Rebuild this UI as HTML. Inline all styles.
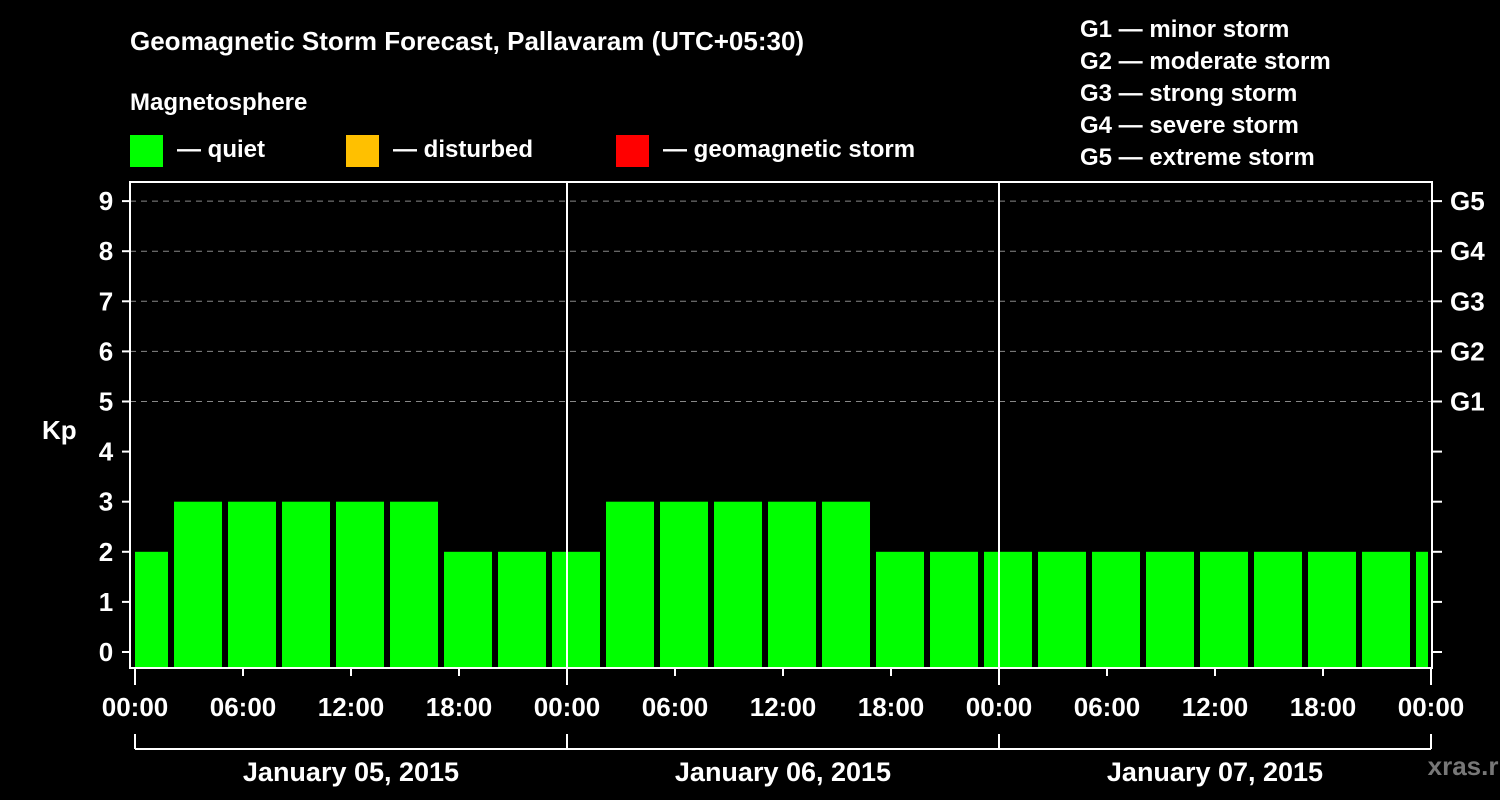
<!DOCTYPE html>
<html><head><meta charset="utf-8"><style>
body{margin:0;background:#000;}
svg{display:block;font-family:"Liberation Sans",sans-serif;font-weight:bold;}
</style></head><body>
<svg width="1500" height="800" viewBox="0 0 1500 800">
<rect width="1500" height="800" fill="#000"/>
<text x="130" y="50" fill="#fff" font-size="26">Geomagnetic Storm Forecast, Pallavaram (UTC+05:30)</text>
<text x="130" y="110" fill="#fff" font-size="24">Magnetosphere</text>
<g>
<rect x="130" y="135" width="33" height="32" fill="#00ff00"/>
<text x="177" y="157" fill="#fff" font-size="24">— quiet</text>
<rect x="346" y="135" width="33" height="32" fill="#ffc000"/>
<text x="393" y="157" fill="#fff" font-size="24">— disturbed</text>
<rect x="616" y="135" width="33" height="32" fill="#ff0000"/>
<text x="663" y="157" fill="#fff" font-size="24">— geomagnetic storm</text>
</g>
<g fill="#fff" font-size="24">
<text x="1080" y="37">G1 — minor storm</text>
<text x="1080" y="69">G2 — moderate storm</text>
<text x="1080" y="101">G3 — strong storm</text>
<text x="1080" y="133">G4 — severe storm</text>
<text x="1080" y="165">G5 — extreme storm</text>
</g>
<text x="42" y="439" fill="#fff" font-size="26">Kp</text>
<text x="1471" y="775" fill="#777" font-size="26" text-anchor="middle">xras.ru</text>
<g id="grid"></g><g id="bars"></g><g id="axes"></g>
</svg>
<script>
const kpValues=[2,3,3,3,3,3,2,2,2,3,3,3,3,3,2,2,2,2,2,2,2,2,2,2,2];
const yTicks=[0,1,2,3,4,5,6,7,8,9];
const gLabels=["","","","","","G1","G2","G3","G4","G5"];
const hourLabels=["00:00","06:00","12:00","18:00","00:00","06:00","12:00","18:00","00:00","06:00","12:00","18:00","00:00"];
const dayLabels=["January 05, 2015","January 06, 2015","January 07, 2015"];
const NS="http://www.w3.org/2000/svg";
const L=130,R=1432,T=182,B=668,x0=135,dayW=432;
const y=v=>652-v*50.1;
const x=h=>x0+h*dayW/24;
const barStartH=-0.833;
function mk(tag,attrs,parent,txt){const e=document.createElementNS(NS,tag);for(const k in attrs)e.setAttribute(k,attrs[k]);if(txt!==undefined)e.textContent=txt;parent.appendChild(e);return e;}
const grid=document.getElementById('grid'),bars=document.getElementById('bars'),axes=document.getElementById('axes');
yTicks.forEach((v,i)=>{
 if(v>=5){const g=mk('line',{x1:L,x2:R,y1:y(v),y2:y(v),stroke:'#888','stroke-dasharray':'6,5','stroke-width':1},grid);
 
 }
 mk('line',{x1:122,x2:L,y1:y(v),y2:y(v),stroke:'#fff','stroke-width':2},axes);
 mk('line',{x1:R,x2:1442,y1:y(v),y2:y(v),stroke:'#fff','stroke-width':2},axes);
 const t=mk('text',{x:106,y:y(v)+9,fill:'#fff','font-size':26,'text-anchor':'middle'},axes,String(v));
 
 
 if(gLabels[i]){const g=mk('text',{x:1450,y:y(v)+9,fill:'#fff','font-size':26},axes,gLabels[i]);
 
 }
});
kpValues.forEach((v,i)=>{
 let a=x(barStartH+i*3),b=a+48;a=Math.max(a,x0);b=Math.min(b,1428);
 const r=mk('rect',{x:a,y:y(v),width:b-a,height:667-y(v),fill:'#00ff00'},bars);
 
 
});
mk('rect',{x:L,y:T,width:R-L,height:B-T,fill:'none',stroke:'#fff','stroke-width':2},axes);
[1,2].forEach(d=>mk('line',{x1:x(d*24),x2:x(d*24),y1:T,y2:B,stroke:'#fff','stroke-width':2},axes));
hourLabels.forEach((s,i)=>{
 const xx=x(i*6);
 mk('line',{x1:xx,x2:xx,y1:B,y2:i%4==0?685:676,stroke:'#fff','stroke-width':2},axes);
 const t=mk('text',{x:xx,y:716,fill:'#fff','font-size':26,'text-anchor':'middle'},axes,s);
 
 
});
mk('line',{x1:x0,x2:x(72),y1:749,y2:749,stroke:'#fff','stroke-width':2},axes);
[0,1,2,3].forEach(d=>mk('line',{x1:x(d*24),x2:x(d*24),y1:734,y2:749,stroke:'#fff','stroke-width':2},axes));
dayLabels.forEach((s,d)=>{
 const t=mk('text',{x:x(d*24+12),y:781,fill:'#fff','font-size':27,'text-anchor':'middle'},axes,s);
 
 
});
</script>
</body></html>
